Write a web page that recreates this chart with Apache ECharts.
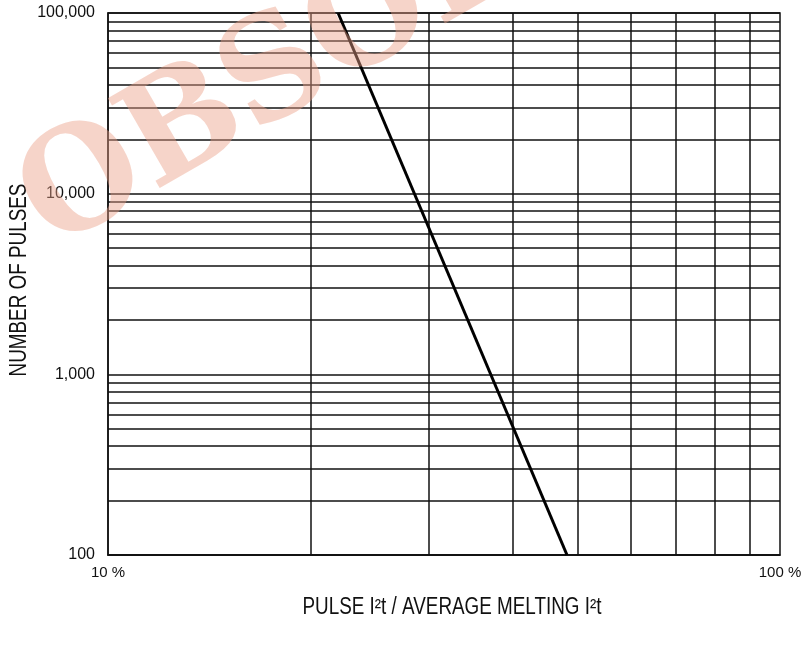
<!DOCTYPE html>
<html>
<head>
<meta charset="utf-8">
<title>Pulse I2t chart</title>
<script src="https://cdn.jsdelivr.net/npm/echarts@6/dist/echarts.min.js"></script>
<style>
  html, body { margin: 0; padding: 0; background: #fff; }
  #chart { width: 804px; height: 645px; }
</style>
</head>
<body>
<div id="chart"></div>
<script>
// curve: pulse I2t ratio (%) vs number of pulses
const curveX = [22, 48.2]
const curveY = [100000, 100]

// grid lines between the decades
const xMinor = [20, 30, 40, 50, 60, 70, 80, 90]
const yMinor = [200, 300, 400, 500, 600, 700, 800, 900,
  2000, 3000, 4000, 5000, 6000, 7000, 8000, 9000,
  20000, 30000, 40000, 50000, 60000, 70000, 80000, 90000]

const xTitle = 'PULSE I\u00b2t / AVERAGE MELTING I\u00b2t'
const yTitle = 'NUMBER OF PULSES'

const labelFont = '"Liberation Sans", Arial, sans-serif'

const chart = echarts.init(document.getElementById('chart'))

const gridMarks = xMinor.map(v => ({ xAxis: v })).concat(yMinor.map(v => ({ yAxis: v })))

const option = {
  animation: false,
  grid: {
    left: 108,
    right: 24,
    top: 13,
    bottom: 90,
    outerBoundsMode: 'none',
    show: true,
    borderColor: '#111',
    borderWidth: 1.5
  },
  xAxis: {
    type: 'log',
    logBase: 10,
    min: 10,
    max: 100,
    axisLine: { show: true, lineStyle: { color: '#111', width: 1.5 } },
    axisTick: { show: false },
    splitLine: { show: false },
    axisLabel: {
      fontFamily: labelFont,
      fontSize: 15,
      color: '#111',
      margin: 10,
      formatter: v => v + ' %'
    }
  },
  yAxis: {
    type: 'log',
    logBase: 10,
    min: 100,
    max: 100000,
    axisLine: { show: true, lineStyle: { color: '#111', width: 1.5 } },
    axisTick: { show: false },
    splitLine: { show: true, lineStyle: { color: '#111', width: 1.5 } },
    axisLabel: {
      fontFamily: labelFont,
      fontSize: 16,
      color: '#111',
      margin: 13,
      formatter: v => Math.round(v).toLocaleString('en-US')
    }
  },
  series: [
    {
      type: 'line',
      data: curveX.map((x, i) => [x, curveY[i]]),
      symbol: 'none',
      lineStyle: { color: '#000', width: 3 },
      z: 5,
      markLine: {
        silent: true,
        symbol: 'none',
        label: { show: false },
        lineStyle: { color: '#111', width: 1.5, type: 'solid' },
        data: gridMarks
      }
    }
  ],
  graphic: [
    // axis titles (condensed look via scaleX)
    {
      type: 'text',
      x: 452,
      y: 608,
      scaleX: 0.82,
      silent: true,
      style: {
        text: xTitle,
        font: '23px ' + labelFont,
        fill: '#111',
        align: 'center',
        verticalAlign: 'middle'
      }
    },
    {
      type: 'text',
      x: 20,
      y: 280,
      rotation: Math.PI / 2,
      scaleX: 0.82,
      silent: true,
      style: {
        text: yTitle,
        font: '23px ' + labelFont,
        fill: '#111',
        align: 'center',
        verticalAlign: 'middle'
      }
    },
    // watermark
    {
      type: 'text',
      z: 100,
      x: 34,
      y: 218,
      rotation: 30 * Math.PI / 180,
      scaleX: 0.9,
      scaleY: 0.95,
      silent: true,
      style: {
        text: 'OBSOLETE',
        font: 'bold 150px "DejaVu Serif", serif',
        fill: 'rgba(235,160,135,0.45)',
        align: 'left',
        verticalAlign: 'middle'
      }
    }
  ]
}

chart.setOption(option)
</script>
</body>
</html>
